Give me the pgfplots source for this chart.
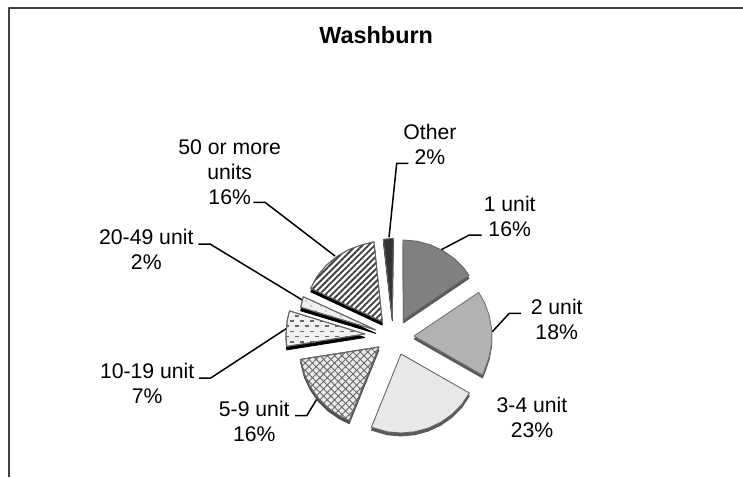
\documentclass[border=0pt]{standalone}
\usepackage{pgfplots}
\pgfplotsset{compat=1.18}
\usepackage{pgfplotstable}
\usepackage{fontspec}
\setmainfont{Liberation Sans}
\usetikzlibrary{patterns,patterns.meta}
\pgfdeclarepatternformonly{dashrows}{\pgfqpoint{-1pt}{-1pt}}{\pgfqpoint{9pt}{9.4pt}}{\pgfqpoint{10pt}{10.4pt}}{%
  \pgfsetlinewidth{1.5pt}
  \pgfpathmoveto{\pgfqpoint{0pt}{0pt}}\pgfpathlineto{\pgfqpoint{4pt}{0pt}}
  \pgfpathmoveto{\pgfqpoint{5pt}{5.2pt}}\pgfpathlineto{\pgfqpoint{9pt}{5.2pt}}
  \pgfusepath{stroke}}
\pgfdeclarepatternformonly{sparsedots}{\pgfqpoint{-1pt}{-1pt}}{\pgfqpoint{9pt}{9pt}}{\pgfqpoint{10pt}{10pt}}{%
  \pgfpathcircle{\pgfqpoint{1pt}{1pt}}{0.6pt}
  \pgfpathcircle{\pgfqpoint{6pt}{6pt}}{0.6pt}
  \pgfusepath{fill}}
\tikzset{
  lab/.style={font=\fontsize{21.2}{25}\selectfont,align=center,text=black,inner sep=0pt},
  leader/.style={black,line width=1.5pt},
  shadow/.style={line width=0.8pt}}
\pgfplotstableread{
x y
403.3 320
403 240
416.9 241.2
430.4 244.8
443 250.7
454.4 258.7
464.3 268.6
469 275.5
403.3 320
}\sliceA
\pgfplotstableread{
x y
414 336
478.7 292.4
484.7 303
489.3 315.8
491.7 329.2
491.7 342.8
489.3 356.2
486.3 365.2
482.5 375
414 336
}\sliceB
\pgfplotstableread{
x y
401 354
469.4 393
461.5 404.8
451.8 414.5
440.5 422.4
428 428.2
414.7 431.8
401 433
387.3 431.8
371.4 427.2
401 354
}\sliceC
\pgfplotstableread{
x y
379 347
349.2 420.7
339.3 415.8
327.9 407.9
318.1 398.1
310.2 386.8
304.3 374.2
300.5 359.4
379 347
}\sliceD
\pgfplotstableread{
x y
365 334
286.7 346.4
286 334
287.2 320.3
289.5 310.9
365 334
}\sliceE
\pgfplotstableread{
x y
376 330
300.7 307.3
303.3 296.7
376 330
}\sliceF
\pgfplotstableread{
x y
382.3 321.7
310.7 288.3
317.2 276.1
326.1 265.5
336.7 256.6
348.7 249.7
361.7 244.9
374 241.7
382.3 321.7
}\sliceG
\pgfplotstableread{
x y
392.3 319
383.3 239.3
393.3 238.3
392.3 319
}\sliceH
\begin{document}
\begin{tikzpicture}
\useasboundingbox (0,0) rectangle (743pt,477pt);
\begin{axis}[at={(0,0)},anchor=south west,width=743pt,height=477pt,scale only axis,
  xmin=0,xmax=743,ymin=0,ymax=477,y dir=reverse,hide axis,clip=false,
  every axis plot/.append style={line join=round,no markers}]
% frame
\addplot[draw=black!75,line width=1.4pt] coordinates {(9,477)(9,8)(743,8)};
% leaders
\addplot[leader] coordinates {(440.7,250)(469.3,235)(481.7,235)};
\addplot[leader] coordinates {(492.3,331.7)(509.3,313.3)(521,313.3)};
\addplot[leader] coordinates {(316.7,399.3)(306.7,415.7)(295,415.7)};
\addplot[leader] coordinates {(286.7,328.3)(210.7,378)(199,378)};
\addplot[leader] coordinates {(302.3,300)(210,244)(198.3,244)};
\addplot[leader] coordinates {(335,256)(265,202.3)(253.3,202.3)};
\addplot[leader] coordinates {(389,237.3)(396.7,163.3)(408.3,163.3)};
% extrusions
\addplot[shadow,fill=black!65,draw=black!65] table[x=x,y expr=\thisrow{y}+3] {\sliceA};
\addplot[shadow,fill=black!65,draw=black!65] table[x=x,y expr=\thisrow{y}+3] {\sliceB};
\addplot[shadow,fill=black!65,draw=black!65] table[x=x,y expr=\thisrow{y}+3] {\sliceC};
\addplot[shadow,fill=black!70,draw=black!70] table[x=x,y expr=\thisrow{y}+3] {\sliceD};
\addplot[shadow,fill=black,draw=black] table[x=x,y expr=\thisrow{y}+3.5] {\sliceE};
\addplot[shadow,fill=black,draw=black] table[x=x,y expr=\thisrow{y}+3.5] {\sliceF};
\addplot[shadow,fill=black,draw=black] table[x=x,y expr=\thisrow{y}+3.5] {\sliceG};
\addplot[shadow,fill=black,draw=black] table[x=x,y expr=\thisrow{y}+2] {\sliceH};
% wedges
\addplot[fill=black!50,draw=black!60,line width=0.9pt] table {\sliceA};
\addplot[fill=black!30,draw=black!55,line width=0.9pt] table {\sliceB};
\addplot[fill=black!9,draw=black!60,line width=0.9pt] table {\sliceC};
\addplot[fill=black!8,draw=black!60,line width=0.9pt,
  postaction={pattern={Lines[angle=45,distance=5.2pt,line width=0.9pt]},pattern color=black!60},
  postaction={pattern={Lines[angle=-45,distance=5.2pt,line width=0.9pt]},pattern color=black!60}] table {\sliceD};
\addplot[fill=black!6,draw=black!60,line width=0.9pt,
  postaction={pattern=dashrows,pattern color=black!60}] table {\sliceE};
\addplot[fill=black!6,draw=black!60,line width=0.9pt,
  postaction={pattern=sparsedots,pattern color=black!70}] table {\sliceF};
\addplot[fill=white,draw=black!60,line width=0.9pt,
  postaction={pattern={Lines[angle=45,distance=4.4pt,line width=1.9pt]},pattern color=black!75}] table {\sliceG};
\addplot[fill=black!80,draw=black!60,line width=0.9pt] table {\sliceH};
% text
\node[font=\fontsize{23.4}{28}\bfseries\selectfont,text=black,inner sep=0pt] at (axis cs:376.2,35) {Washburn};
\node[lab] at (axis cs:509.7,216.5) {1 unit\\16\%};
\node[lab] at (axis cs:556.7,319.5) {2 unit\\18\%};
\node[lab] at (axis cs:532,417) {3-4 unit\\23\%};
\node[lab] at (axis cs:254.3,421.5) {5-9 unit\\16\%};
\node[lab] at (axis cs:147.2,383.7) {10-19 unit\\7\%};
\node[lab] at (axis cs:146.3,249.5) {20-49 unit\\2\%};
\node[lab] at (axis cs:229.7,171.7) {50 or more\\units\\16\%};
\node[lab] at (axis cs:430,144) {Other\\2\%};
\end{axis}
\end{tikzpicture}
\end{document}
